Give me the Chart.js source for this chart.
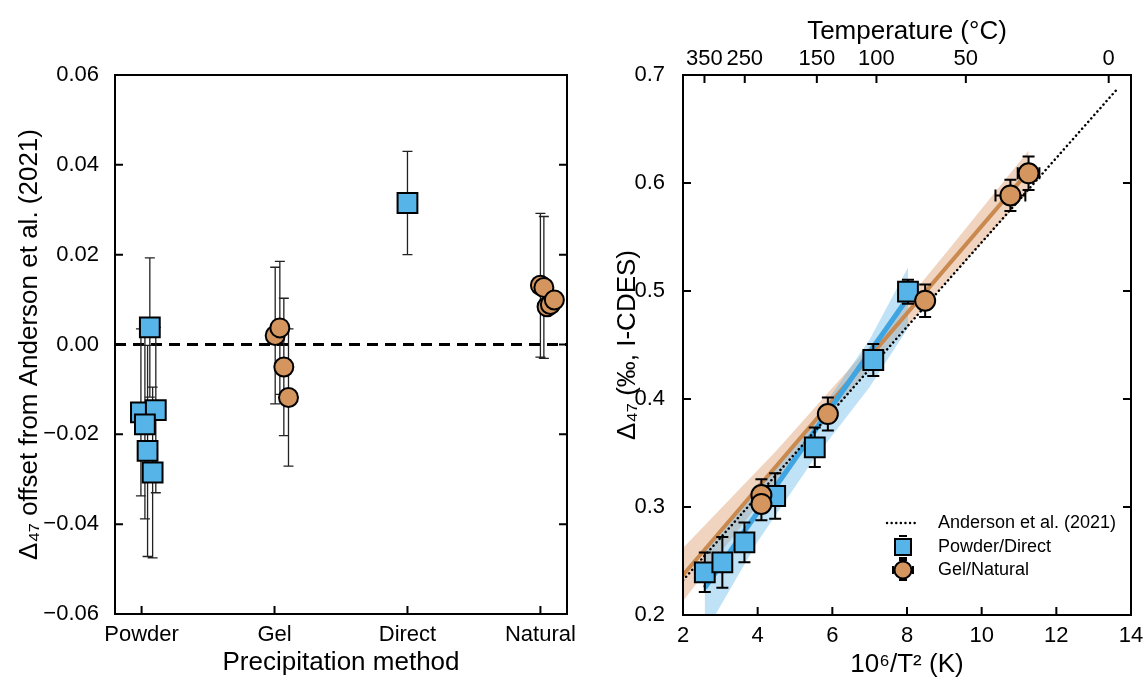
<!DOCTYPE html>
<html>
<head>
<meta charset="utf-8">
<script src="https://cdn.jsdelivr.net/npm/chart.js@4.4.0/dist/chart.umd.min.js"></script>
<style>
  html, body { margin: 0; padding: 0; background: #fff; }
  #left { position: absolute; left: 0; top: 0; width: 590px; height: 688px; }
  #right { position: absolute; left: 590px; top: 0; width: 557px; height: 688px; }
</style>
</head>
<body>
<div id="left"><canvas id="offsetChart"></canvas></div>
<div id="right"><canvas id="calibChart"></canvas></div>
<script>
// ---- left panel: offset from Anderson et al. (2021) ----
const methods = ['Powder', 'Gel', 'Direct', 'Natural'];
const offsetTicks = [-0.06, -0.04, -0.02, 0, 0.02, 0.04, 0.06];

const powderPos = [0.062, -0.005, 0.107, 0.025, 0.045, 0.083];
const powderOffset = [0.0038, -0.0151, -0.0146, -0.0178, -0.0237, -0.0285];
const powderErr = [0.0155, 0.0186, 0.0184, 0.0210, 0.0235, 0.0190];

const gelPos = [1.005, 1.04, 1.07, 1.105];
const gelOffset = [0.0020, 0.0037, -0.0050, -0.0118];
const gelErr = [0.0152, 0.0148, 0.0153, 0.0153];

const directPos = [2.0];
const directOffset = [0.0315];
const directErr = [0.0115];

const naturalPos = [3.0, 3.026, 3.05, 3.075, 3.105];
const naturalOffset = [0.0132, 0.0127, 0.0084, 0.0089, 0.0099];
const naturalErr = [0.0160, 0.0158, 0, 0, 0];

// ---- right panel: calibration ----
const invT2Ticks = [2, 4, 6, 8, 10, 12, 14];
const d47Ticks = [0.2, 0.3, 0.4, 0.5, 0.6, 0.7];
const tempTicks = [350, 250, 150, 100, 50, 0];

const pdX = [2.584, 3.054, 3.646, 4.469, 5.53, 7.097, 8.026];
const pdY = [0.2395, 0.2488, 0.2673, 0.3102, 0.3553, 0.4361, 0.4994];
const pdErr = [0.0183, 0.0235, 0.0184, 0.0210, 0.0183, 0.0148, 0.0111];

const gnX = [4.10, 4.10, 5.88, 8.486, 10.77, 11.256];
const gnY = [0.3111, 0.3028, 0.3861, 0.4910, 0.5885, 0.6090];
const gnErr = [0.0145, 0.0150, 0.0153, 0.0150, 0.0145, 0.0155];
const gnXErr = [0, 0, 0, 0, 0.40, 0.29];

const andersonX = [2.0, 13.6];
const andersonY = [0.2322, 0.6858];

const pdFitX = [2.58, 8.03];
const pdFitY = [0.225, 0.494];
const pdBandX = [2.58, 4.0, 5.5, 7.0, 8.03];
const pdBandLo = [0.183, 0.268, 0.344, 0.411, 0.466];
const pdBandHi = [0.262, 0.316, 0.380, 0.455, 0.522];

const gnFitX = [2.0, 11.26];
const gnFitY = [0.237, 0.611];
const gnBandX = [2.0, 4.5, 7.0, 9.2, 11.26];
const gnBandLo = [0.213, 0.324, 0.429, 0.514, 0.592];
const gnBandHi = [0.262, 0.352, 0.449, 0.542, 0.630];

const BLUE = '#56b4e9';
const TAN = '#d4965e';

Chart.defaults.font.family = "'Liberation Sans', Arial, Helvetica, sans-serif";
Chart.defaults.color = '#000';

const pts = (xs, ys) => xs.map((x, i) => ({ x: x, y: ys[i] }));

// error bars drawn just before the markers of a dataset
const errorBars = {
  id: 'errorBars',
  beforeDatasetDraw(chart, args) {
    const ds = chart.data.datasets[args.index];
    if (!ds.errY && !ds.errX) return;
    const ctx = chart.ctx;
    const xs = chart.scales.x, ys = chart.scales.y;
    const cap = ds.capSize || 5;
    ctx.save();
    ctx.strokeStyle = ds.errColor || '#000';
    ctx.lineWidth = ds.errWidth || 1.5;
    ctx.beginPath();
    ds.data.forEach((p, i) => {
      const px = xs.getPixelForValue(p.x), py = ys.getPixelForValue(p.y);
      const ey = ds.errY ? ds.errY[i] : 0;
      const ex = ds.errX ? ds.errX[i] : 0;
      if (ey) {
        const t = ys.getPixelForValue(p.y + ey), b = ys.getPixelForValue(p.y - ey);
        ctx.moveTo(px, t); ctx.lineTo(px, b);
        ctx.moveTo(px - cap, t); ctx.lineTo(px + cap, t);
        ctx.moveTo(px - cap, b); ctx.lineTo(px + cap, b);
      }
      if (ex) {
        const l = xs.getPixelForValue(p.x - ex), r = xs.getPixelForValue(p.x + ex);
        ctx.moveTo(l, py); ctx.lineTo(r, py);
        ctx.moveTo(l, py - cap); ctx.lineTo(l, py + cap);
        ctx.moveTo(r, py - cap); ctx.lineTo(r, py + cap);
      }
    });
    ctx.stroke();
    ctx.restore();
  }
};

// box around plot with inward ticks
const frame = {
  id: 'frame',
  afterDraw(chart) {
    const ctx = chart.ctx, a = chart.chartArea;
    const len = 8;
    ctx.save();
    ctx.strokeStyle = '#000';
    ctx.lineWidth = 2;
    ctx.strokeRect(a.left, a.top, a.right - a.left, a.bottom - a.top);
    ctx.beginPath();
    Object.values(chart.scales).forEach(s => {
      s.ticks.forEach(t => {
        const p = s.getPixelForValue(t.value);
        if (s.axis === 'y') {
          ctx.moveTo(a.left, p); ctx.lineTo(a.left + len, p);
          ctx.moveTo(a.right, p); ctx.lineTo(a.right - len, p);
        } else if (s.options.position === 'top') {
          ctx.moveTo(p, a.top); ctx.lineTo(p, a.top + len);
        } else {
          ctx.moveTo(p, a.bottom); ctx.lineTo(p, a.bottom - len);
        }
      });
    });
    ctx.stroke();
    ctx.restore();
  }
};

const noGrid = { display: false };
const noBorder = { display: false };

// ---------------- left chart ----------------
function markerSet(xs, ys, errs, style, color, r) {
  return {
    data: pts(xs, ys),
    errY: errs,
    errWidth: 1.3,
    errColor: '#222',
    capSize: 5,
    pointStyle: style,
    pointRadius: r,
    pointHoverRadius: r,
    pointBackgroundColor: color,
    pointBorderColor: '#000',
    pointBorderWidth: 2,
    order: 0
  };
}

new Chart(document.getElementById('offsetChart'), {
  type: 'scatter',
  data: {
    datasets: [
      {
        data: [{ x: -0.2, y: 0 }, { x: 3.2, y: 0 }],
        showLine: true,
        borderColor: '#000',
        borderWidth: 3,
        borderDash: [11, 7],
        pointRadius: 0,
        order: 10
      },
      markerSet(powderPos, powderOffset, powderErr, 'rect', BLUE, 14),
      markerSet(gelPos, gelOffset, gelErr, 'circle', TAN, 9.5),
      markerSet(directPos, directOffset, directErr, 'rect', BLUE, 14),
      markerSet(naturalPos, naturalOffset, naturalErr, 'circle', TAN, 9.5)
    ]
  },
  options: {
    responsive: true,
    maintainAspectRatio: false,
    animation: false,
    layout: { padding: { left: 0, right: 23, top: 75, bottom: 0 } },
    plugins: { legend: { display: false }, tooltip: { enabled: false } },
    scales: {
      x: {
        type: 'linear',
        min: -0.2,
        max: 3.2,
        grid: noGrid,
        border: noBorder,
        afterBuildTicks: s => { s.ticks = methods.map((m, i) => ({ value: i })); },
        afterFit: s => { s.height = 74; },
        ticks: {
          autoSkip: false,
          maxRotation: 0,
          padding: 0,
          font: { size: 22 },
          callback: (v) => methods[v]
        },
        title: {
          display: true,
          text: 'Precipitation method',
          font: { size: 26 },
          padding: { top: 0, bottom: 10 }
        }
      },
      y: {
        min: -0.06,
        max: 0.06,
        grid: noGrid,
        border: noBorder,
        afterBuildTicks: s => { s.ticks = offsetTicks.map(v => ({ value: v })); },
        afterFit: s => { s.width = 115; },
        ticks: {
          padding: 8,
          font: { size: 22 },
          callback: v => (Math.abs(v) < 1e-9 ? '0.00' : (v < 0 ? '\u2212' + Math.abs(v).toFixed(2) : v.toFixed(2)))
        },
        title: {
          display: true,
          text: 'Δ₄₇ offset from Anderson et al. (2021)',
          font: { size: 26 },
          padding: { top: 14, bottom: 0 }
        }
      }
    }
  },
  plugins: [errorBars, frame]
});

// ---------------- right chart ----------------
const calibLegend = {
  id: 'calibLegend',
  afterDraw(chart) {
    const ctx = chart.ctx, a = chart.chartArea;
    const lx = a.left + 204, mx = a.left + 220, tx = a.left + 255;
    const rows = [a.top + 448, a.top + 472, a.top + 495];
    ctx.save();
    ctx.font = "18px 'Liberation Sans', Arial, sans-serif";
    ctx.fillStyle = '#000';
    ctx.textBaseline = 'middle';
    ctx.textAlign = 'left';
    // dotted line
    ctx.strokeStyle = '#000';
    ctx.lineWidth = 2.4;
    ctx.lineCap = 'round';
    ctx.setLineDash([0.1, 4.5]);
    ctx.beginPath();
    ctx.moveTo(lx, rows[0]); ctx.lineTo(lx + 32, rows[0]);
    ctx.stroke();
    ctx.setLineDash([]);
    ctx.lineCap = 'butt';
    ctx.fillText('Anderson et al. (2021)', tx, rows[0]);
    // square
    ctx.lineWidth = 2;
    ctx.beginPath();
    ctx.moveTo(mx - 4, rows[1] - 11); ctx.lineTo(mx + 4, rows[1] - 11);
    ctx.moveTo(mx - 4, rows[1] + 11); ctx.lineTo(mx + 4, rows[1] + 11);
    ctx.stroke();
    ctx.fillStyle = BLUE;
    ctx.fillRect(mx - 8, rows[1] - 8, 16, 16);
    ctx.strokeRect(mx - 8, rows[1] - 8, 16, 16);
    // circle
    ctx.beginPath();
    ctx.moveTo(mx - 4, rows[2] - 10); ctx.lineTo(mx + 4, rows[2] - 10);
    ctx.moveTo(mx - 4, rows[2] + 10); ctx.lineTo(mx + 4, rows[2] + 10);
    ctx.moveTo(mx - 10, rows[2] - 4); ctx.lineTo(mx - 10, rows[2] + 4);
    ctx.moveTo(mx + 10, rows[2] - 4); ctx.lineTo(mx + 10, rows[2] + 4);
    ctx.stroke();
    ctx.fillStyle = TAN;
    ctx.beginPath();
    ctx.arc(mx, rows[2], 8.5, 0, Math.PI * 2);
    ctx.fill();
    ctx.stroke();
    ctx.fillStyle = '#000';
    ctx.fillText('Powder/Direct', tx, rows[1]);
    ctx.fillText('Gel/Natural', tx, rows[2]);
    ctx.restore();
  }
};

function lineSet(xs, ys, color, width, order, extra) {
  return Object.assign({
    data: pts(xs, ys),
    showLine: true,
    borderColor: color,
    borderWidth: width,
    pointRadius: 0,
    pointHoverRadius: 0,
    fill: false,
    order: order
  }, extra || {});
}

new Chart(document.getElementById('calibChart'), {
  type: 'scatter',
  data: {
    datasets: [
      // Gel/Natural confidence band
      lineSet(gnBandX, gnBandHi, 'rgba(0,0,0,0)', 0, 9, { fill: '+1', backgroundColor: 'rgba(226,170,128,0.5)' }),
      lineSet(gnBandX, gnBandLo, 'rgba(0,0,0,0)', 0, 9),
      // Powder/Direct confidence band
      lineSet(pdBandX, pdBandHi, 'rgba(0,0,0,0)', 0, 8, { fill: '+1', backgroundColor: 'rgba(86,180,233,0.38)' }),
      lineSet(pdBandX, pdBandLo, 'rgba(0,0,0,0)', 0, 8),
      // regression lines
      lineSet(gnFitX, gnFitY, '#c9894f', 4, 6),
      lineSet(pdFitX, pdFitY, '#3ea5e2', 5, 5),
      // Anderson et al. (2021)
      lineSet(andersonX, andersonY, '#000', 2.5, 4, { borderDash: [0.1, 4.5], borderCapStyle: 'round' }),
      {
        data: pts(pdX, pdY),
        errY: pdErr,
        errWidth: 2,
        capSize: 6,
        pointStyle: 'rect',
        pointRadius: 14,
        pointHoverRadius: 14,
        pointBackgroundColor: BLUE,
        pointBorderColor: '#000',
        pointBorderWidth: 2,
        order: 2
      },
      {
        data: pts(gnX, gnY),
        errY: gnErr,
        errX: gnXErr,
        errWidth: 2,
        capSize: 6,
        pointStyle: 'circle',
        pointRadius: 10,
        pointHoverRadius: 10,
        pointBackgroundColor: TAN,
        pointBorderColor: '#000',
        pointBorderWidth: 2,
        order: 1
      }
    ]
  },
  options: {
    responsive: true,
    maintainAspectRatio: false,
    animation: false,
    layout: { padding: { left: 0, right: 12, top: 0, bottom: 0 } },
    plugins: { legend: { display: false }, tooltip: { enabled: false } },
    scales: {
      x: {
        type: 'linear',
        position: 'bottom',
        min: 2,
        max: 14,
        grid: noGrid,
        border: noBorder,
        afterBuildTicks: s => { s.ticks = invT2Ticks.map(v => ({ value: v })); },
        afterFit: s => { s.height = 73; },
        ticks: { padding: 0, font: { size: 22 }, maxRotation: 0, autoSkip: false },
        title: {
          display: true,
          text: '10⁶/T² (K)',
          font: { size: 26 },
          padding: { top: 0, bottom: 8 }
        }
      },
      xTop: {
        type: 'linear',
        position: 'top',
        min: 2,
        max: 14,
        grid: noGrid,
        border: noBorder,
        afterBuildTicks: s => { s.ticks = tempTicks.map(T => ({ value: 1e6 / Math.pow(T + 273.15, 2) })); },
        afterFit: s => { s.height = 75; },
        ticks: {
          padding: -5,
          font: { size: 22 },
          maxRotation: 0,
          autoSkip: false,
          callback: (v, i) => String(tempTicks[i])
        },
        title: {
          display: true,
          text: 'Temperature (°C)',
          font: { size: 26 },
          padding: { top: 16, bottom: 0 }
        }
      },
      y: {
        min: 0.2,
        max: 0.7,
        grid: noGrid,
        border: noBorder,
        afterBuildTicks: s => { s.ticks = d47Ticks.map(v => ({ value: v })); },
        afterFit: s => { s.width = 93; },
        ticks: { padding: 10, font: { size: 22 }, callback: v => v.toFixed(1) },
        title: {
          display: true,
          text: 'Δ₄₇ (‰, I-CDES)',
          font: { size: 26 },
          padding: { top: 22, bottom: 0 }
        }
      }
    }
  },
  plugins: [errorBars, frame, calibLegend]
});
</script>
</body>
</html>
